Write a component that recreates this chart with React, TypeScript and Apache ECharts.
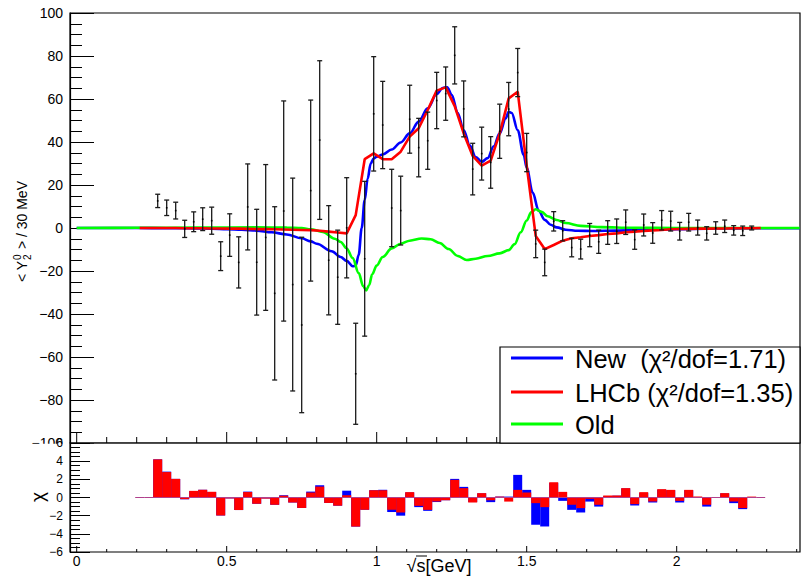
import React, { useEffect, useRef } from 'react';
import * as echarts from 'echarts';

// ---- data points (bin centres in GeV, <Y20>/30 MeV, error) ----
const binCenters = [0.27, 0.30, 0.33, 0.36, 0.39, 0.42, 0.45, 0.48, 0.51, 0.54, 0.57, 0.60, 0.63, 0.66, 0.69, 0.72, 0.75, 0.78, 0.81, 0.84, 0.87, 0.90, 0.93, 0.96, 0.99, 1.02, 1.05, 1.08, 1.11, 1.14, 1.17, 1.20, 1.23, 1.26, 1.29, 1.32, 1.35, 1.38, 1.41, 1.44, 1.47, 1.50, 1.53, 1.56, 1.59, 1.62, 1.65, 1.68, 1.71, 1.74, 1.77, 1.80, 1.83, 1.86, 1.89, 1.92, 1.95, 1.98, 2.01, 2.04, 2.07, 2.10, 2.13, 2.16, 2.19, 2.22, 2.25];
const yValues = [12.6, 9.4, 8.1, -0.4, 2.9, 4.1, 3.4, -13.1, -3.3, -16.0, 9.8, -15.9, -4.4, -30.4, 7.9, -26.3, -45.1, 17.4, 40.9, -15.0, -22.9, 0.1, -67.8, -14.3, 53.1, 47.9, 9.3, 8.1, 50.6, 37.4, 40.6, 59.3, 62.5, 80.3, 55.4, 27.4, 34.6, 30.5, 45.0, 55.3, 72.3, 35.1, -7.4, -16.0, 3.1, -1.3, -9.1, -9.8, -3.3, -6.4, -2.1, -1.5, 2.7, -5.4, 1.4, -2.3, 3.6, 3.2, -1.5, 2.7, 0.2, -2.5, 0.0, 0.8, -1.1, -1.3, 0.0];
const yErrors = [3.1, 3.6, 3.9, 4.0, 4.6, 5.3, 6.3, 6.7, 9.9, 11.9, 20.0, 24.6, 33.9, 40.3, 51.2, 49.5, 40.8, 42.1, 36.9, 25.4, 21.9, 23.3, 23.5, 36.0, 26.6, 20.3, 18.0, 16.0, 15.8, 13.6, 13.3, 13.1, 12.4, 13.3, 13.0, 12.0, 12.3, 12.0, 12.6, 12.4, 11.2, 8.9, 6.4, 6.2, 4.5, 4.7, 4.3, 4.6, 5.4, 5.4, 5.5, 5.7, 5.7, 4.5, 5.1, 4.8, 4.5, 4.6, 4.1, 4.1, 3.5, 3.1, 2.9, 2.9, 2.2, 2.2, 0.9];

// ---- residual histogram bins ----
const chiBins = [0.21, 0.24, 0.27, 0.30, 0.33, 0.36, 0.39, 0.42, 0.45, 0.48, 0.51, 0.54, 0.57, 0.60, 0.63, 0.66, 0.69, 0.72, 0.75, 0.78, 0.81, 0.84, 0.87, 0.90, 0.93, 0.96, 0.99, 1.02, 1.05, 1.08, 1.11, 1.14, 1.17, 1.20, 1.23, 1.26, 1.29, 1.32, 1.35, 1.38, 1.41, 1.44, 1.47, 1.50, 1.53, 1.56, 1.59, 1.62, 1.65, 1.68, 1.71, 1.74, 1.77, 1.80, 1.83, 1.86, 1.89, 1.92, 1.95, 1.98, 2.01, 2.04, 2.07, 2.10, 2.13, 2.16, 2.19, 2.22, 2.25, 2.28];
const chiNew = [0, 0, 4.2, 2.85, 2.05, -0.2, 0.7, 0.85, 0.6, -1.98, -0.1, -1.38, 0.65, -0.7, -0.1, -0.8, 0.25, -0.55, -1.15, 0.65, 1.35, -0.6, -0.9, 0.75, -3.2, -1.35, 0.8, 0.85, -1.6, -2.0, 0.55, -1.06, -1.47, -0.5, -0.3, 2.05, 1.17, -0.5, 0.45, -0.51, 0.1, 0.1, 2.49, 0.84, -3.0, -3.19, 1.6, -0.37, -1.36, -1.65, -0.45, -1.0, 0.15, 0.2, 1.0, -0.88, 0.5, -0.55, 0.85, 0.8, -0.55, 0.8, 0.05, -1.0, 0, 0.45, -0.62, -1.28, 0.05, 0];
const chiLHCb = [0, 0, 4.2, 2.8, 2.05, -0.18, 0.73, 0.85, 0.63, -1.98, -0.1, -1.38, 0.6, -0.7, -0.12, -0.8, 0.2, -0.55, -1.15, 0.55, 1.2, -0.6, -0.9, 0.25, -3.2, -1.35, 0.8, 0.8, -1.35, -1.65, 0.59, -0.92, -1.36, -0.44, -0.3, 1.94, 1.03, -0.55, 0.48, -0.3, 0.1, -0.45, 0.84, 0.55, -0.62, -1.06, 1.68, 0.62, -0.8, -1.17, -0.15, -0.8, 0.22, 0.22, 1.03, -0.73, 0.59, -0.44, 0.92, 0.84, -0.37, 0.84, 0.11, -0.8, 0.04, 0.48, -0.44, -1.17, 0.1, 0];

// ---- model curves ----
const newX = [0, 0.1, 0.2, 0.3, 0.4, 0.45, 0.5, 0.55, 0.6, 0.65, 0.7, 0.75, 0.78, 0.8, 0.85, 0.88, 0.9, 0.92, 0.93, 0.94, 0.95, 0.96, 0.97, 0.98, 0.99, 1.0, 1.02, 1.05, 1.08, 1.11, 1.14, 1.17, 1.2, 1.22, 1.235, 1.25, 1.27, 1.29, 1.31, 1.33, 1.35, 1.37, 1.39, 1.41, 1.43, 1.44, 1.45, 1.47, 1.49, 1.5, 1.52, 1.54, 1.56, 1.58, 1.6, 1.63, 1.67, 1.72, 1.8, 1.9, 2.0, 2.1, 2.2, 2.3, 2.41];
const newY = [0, 0, 0, -0.1, -0.2, -0.3, -0.5, -0.8, -1.2, -2.0, -3.0, -4.8, -6.2, -7.3, -10.8, -13.5, -15.3, -17.8, -17.5, -12.5, 0, 13, 23, 30, 32.3, 33.2, 34.2, 36.5, 39.8, 44, 49.5, 55.7, 62.3, 65.1, 65.5, 62, 53.5, 45.5, 38.5, 33, 30.8, 32.5, 38, 44, 51, 54, 53.5, 45.5, 34, 28, 16.5, 8, 3.8, 1.5, 0.3, -0.8, -1.3, -1.4, -1.2, -0.8, -0.5, -0.3, -0.2, -0.1, -0.1];
const lhcbY = [0, 0, 0, 0, 0, -0.1, -0.1, -0.1, -0.2, -0.2, -0.3, -0.3, -0.4, -0.5, -0.5, -0.6, -0.7, -0.8, -0.9, -1.0, -1.3, -1.7, -2.1, -2.5, 6, 32, 34.7, 32, 32, 35.5, 42.5, 46.4, 54.9, 63.9, 65.4, 56.7, 44, 33.5, 29, 31.3, 44, 60.3, 63.4, 29, -3.7, -9.8, -7.9, -5.9, -4.8, -4.3, -3.7, -3.3, -2.8, -2.5, -2.0, -1.7, -1.4, -1.1, -0.9, -0.6, -0.5, -0.4, -0.3, -0.3, -0.2, -0.2, -0.1, -0.1, -0.1, 0];
const oldX = [0, 0.2, 0.4, 0.6, 0.7, 0.75, 0.78, 0.82, 0.86, 0.88, 0.9, 0.92, 0.94, 0.955, 0.965, 0.975, 0.985, 1.0, 1.02, 1.05, 1.08, 1.11, 1.15, 1.18, 1.21, 1.24, 1.27, 1.3, 1.33, 1.37, 1.41, 1.44, 1.46, 1.48, 1.5, 1.515, 1.53, 1.55, 1.57, 1.6, 1.63, 1.68, 1.75, 1.85, 2.0, 2.2, 2.41];
const oldY = [0, 0.1, 0.2, 0.3, 0.2, 0, -0.6, -1.8, -5, -6.5, -9.5, -14, -21, -27, -29, -26.5, -21.5, -17.5, -13.5, -9.5, -7.3, -5.9, -4.9, -5.2, -7, -9.8, -13, -14.9, -14.3, -13, -11.8, -10.3, -7.5, -2, 3.5, 7.3, 8.7, 7.5, 5.5, 3.7, 2.3, 1.0, 0.4, 0.1, 0, 0, 0];

// ---- axis ticks ----
const xTickValues = [0, 0.1, 0.2, 0.3, 0.4, 0.5, 0.6, 0.7, 0.8, 0.9, 1, 1.1, 1.2, 1.3, 1.4, 1.5, 1.6, 1.7, 1.8, 1.9, 2, 2.1, 2.2, 2.3, 2.4];
const xMajorValues = [0, 0.5, 1, 1.5, 2];
const xMajorLabels = ['0', '0.5', '1', '1.5', '2'];

const legendLabels = ['New  (χ²/dof=1.71)', 'LHCb (χ²/dof=1.35)', 'Old'];
const legendColors = ['#0000ff', '#ff0000', '#00ff00'];

const FONT = '"Liberation Sans", Arial, Helvetica, sans-serif';
const X_MIN = -0.0223;
const X_MAX = 2.411;
const HALF_BIN = 0.015;

const minusFmt = (v: number) => (v < 0 ? '\u2212' + Math.abs(v) : String(v));

function txt(text: string, x: number, y: number, size: number, align = 'left', extra: any = {}) {
  return {
    type: 'text', x, y, z: 10, silent: true, ...extra,
    style: { text, fontSize: size, fontFamily: FONT, fill: '#000', align, textAlign: align, verticalAlign: 'middle', textVerticalAlign: 'middle' },
  };
}

export default function App() {
  const ref = useRef<HTMLDivElement>(null);
  useEffect(() => {
    if (!ref.current) return;
    const chart = echarts.init(ref.current, undefined, { renderer: 'svg' });

    const tickSeries = (gi: number, yBase: number, majLen: number, minLen: number, withLabels: boolean) => ({
      type: 'custom', xAxisIndex: gi, yAxisIndex: gi, silent: true, z: 6,
      data: xTickValues.map((v) => [v, yBase]),
      renderItem: (_p: any, api: any) => {
        const v = api.value(0);
        const p = api.coord([v, yBase]);
        const idx = xMajorValues.indexOf(v);
        const len = idx >= 0 ? majLen : minLen;
        const children: any[] = [
          { type: 'line', shape: { x1: p[0], y1: p[1], x2: p[0], y2: p[1] - len }, style: { stroke: '#000', lineWidth: 1 } },
        ];
        if (withLabels && idx >= 0) {
          children.push({
            type: 'text', x: p[0], y: p[1] + 9,
            style: { text: xMajorLabels[idx], fontSize: 14, fontFamily: FONT, fill: '#000', align: 'center', textAlign: 'center', verticalAlign: 'middle', textVerticalAlign: 'middle' },
          });
        }
        return { type: 'group', children };
      },
    });

    const chiSeries = (name: string, vals: number[], color: string, z: number, zeroLine: boolean) => ({
      type: 'custom', name, xAxisIndex: 1, yAxisIndex: 1, z, silent: true,
      data: chiBins.map((b, i) => [b, vals[i]]),
      renderItem: (_p: any, api: any) => {
        const x = api.value(0);
        const v = api.value(1);
        const a = api.coord([x - HALF_BIN, 0]);
        const b = api.coord([x + HALF_BIN, v]);
        const children: any[] = [
          { type: 'rect', shape: { x: a[0], y: Math.min(a[1], b[1]), width: b[0] - a[0], height: Math.abs(b[1] - a[1]) }, style: { fill: color } },
        ];
        if (zeroLine) {
          children.push({ type: 'line', shape: { x1: a[0], y1: a[1], x2: b[0], y2: a[1] }, style: { stroke: '#b0408c', lineWidth: 1 } });
        }
        return { type: 'group', children };
      },
    });

    const option: any = {
      animation: false,
      backgroundColor: '#fff',
      grid: [
        { left: 70, top: 13, width: 730, height: 430, show: true, borderColor: '#000', borderWidth: 1.2, backgroundColor: 'transparent', z: 0 },
        { left: 70, top: 443, width: 730, height: 109, show: true, borderColor: '#000', borderWidth: 1.2, backgroundColor: 'transparent', z: 3 },
      ],
      xAxis: [
        { gridIndex: 0, type: 'value', min: X_MIN, max: X_MAX, show: false },
        { gridIndex: 1, type: 'value', min: X_MIN, max: X_MAX, show: false },
      ],
      yAxis: [
        {
          gridIndex: 0, type: 'value', min: -100, max: 100, interval: 20, z: 0,
          axisLine: { show: true, onZero: false, lineStyle: { color: '#000', width: 1.2 } },
          axisTick: { show: true, inside: true, length: 24, lineStyle: { color: '#000', width: 1 } },
          minorTick: { show: true, splitNumber: 4, length: 12, lineStyle: { color: '#000', width: 1 } },
          axisLabel: { show: true, margin: 7, fontSize: 14, color: '#000', fontFamily: FONT, formatter: minusFmt },
          splitLine: { show: false },
        },
        {
          gridIndex: 1, type: 'value', min: -6, max: 6, interval: 2, z: 4,
          axisLine: { show: true, onZero: false, lineStyle: { color: '#000', width: 1.2 } },
          axisTick: { show: true, inside: true, length: 20, lineStyle: { color: '#000', width: 1 } },
          minorTick: { show: true, splitNumber: 4, length: 10, lineStyle: { color: '#000', width: 1 } },
          axisLabel: { show: true, margin: 7, fontSize: 12, color: '#000', fontFamily: FONT, formatter: minusFmt },
          splitLine: { show: false },
        },
      ],
      series: [
        {
          type: 'line', name: 'New', xAxisIndex: 0, yAxisIndex: 0, z: 2, smooth: 0.35, smoothMonotone: 'x', showSymbol: false, silent: true,
          data: newX.map((x, i) => [x, newY[i]]), lineStyle: { color: legendColors[0], width: 2.6 },
        },
        {
          type: 'line', name: 'Old', xAxisIndex: 0, yAxisIndex: 0, z: 3, smooth: 0.35, smoothMonotone: 'x', showSymbol: false, silent: true,
          data: oldX.map((x, i) => [x, oldY[i]]), lineStyle: { color: legendColors[2], width: 2.6 },
        },
        {
          type: 'line', name: 'LHCb', xAxisIndex: 0, yAxisIndex: 0, z: 4, smooth: false, showSymbol: false, silent: true,
          data: chiBins.map((x, i) => [x, lhcbY[i]]), lineStyle: { color: legendColors[1], width: 2.6 },
        },
        {
          type: 'custom', name: 'data', xAxisIndex: 0, yAxisIndex: 0, z: 5, silent: true,
          dimensions: ['x', 'y', 'err'], encode: { x: 0, y: 1 },
          data: binCenters.map((x, i) => [x, yValues[i], yErrors[i]]),
          renderItem: (_p: any, api: any) => {
            const x = api.value(0), y = api.value(1), e = api.value(2);
            const t = api.coord([x, y + e]);
            const b = api.coord([x, y - e]);
            const m = api.coord([x, y]);
            const st = { stroke: '#1a1a1a', lineWidth: 1.3 };
            const c = 2.5;
            return {
              type: 'group', children: [
                { type: 'line', shape: { x1: t[0], y1: t[1], x2: b[0], y2: b[1] }, style: st },
                { type: 'line', shape: { x1: t[0] - c, y1: t[1], x2: t[0] + c, y2: t[1] }, style: st },
                { type: 'line', shape: { x1: b[0] - c, y1: b[1], x2: b[0] + c, y2: b[1] }, style: st },
                { type: 'rect', shape: { x: m[0] - 0.8, y: m[1] - 0.8, width: 1.6, height: 1.6 }, style: { fill: '#000' } },
              ],
            };
          },
        },
        tickSeries(0, -100, 11, 6, false),
        chiSeries('New χ', chiNew, '#0000ff', 5, false),
        chiSeries('LHCb χ', chiLHCb, '#ff0000', 6, true),
        tickSeries(1, -6, 6, 3, true),
      ],
      graphic: [
        { type: 'rect', z: 1, silent: true, shape: { x: 0, y: 443.7, width: 802, height: 140 }, style: { fill: '#fff' } },
        { type: 'rect', z: 10, silent: true, shape: { x: 500, y: 347, width: 300, height: 96 }, style: { fill: '#fff', stroke: '#000', lineWidth: 1.2 } },
        ...[358, 392, 424].map((yy, i) => ({
          type: 'line', z: 11, silent: true, shape: { x1: 511, y1: yy, x2: 563, y2: yy }, style: { stroke: legendColors[i], lineWidth: 3 },
        })),
        ...[359, 393, 425].map((yy, i) => txt(legendLabels[i], 575, yy, 25.5)),
        {
          type: 'group', x: 22, y: 232, rotation: Math.PI / 2, z: 10, silent: true,
          children: [
            txt('< Y', -50, 0, 14),
            txt('0', -28, -5, 10),
            txt('2', -28, 5, 10),
            txt(' > / 30 MeV', -21, 0, 14),
          ],
        },
        txt('χ', 37, 497, 19, 'center', { rotation: Math.PI / 2 }),
        txt('√s[GeV]', 439, 566, 18, 'center'),
        { type: 'line', z: 10, silent: true, shape: { x1: 416, y1: 556, x2: 427, y2: 556 }, style: { stroke: '#000', lineWidth: 1 } },
      ],
    };
    chart.setOption(option);
    return () => chart.dispose();
  }, []);
  return <div ref={ref} style={{ width: 802, height: 577, position: 'absolute', left: 0, top: 0 }} />;
}
